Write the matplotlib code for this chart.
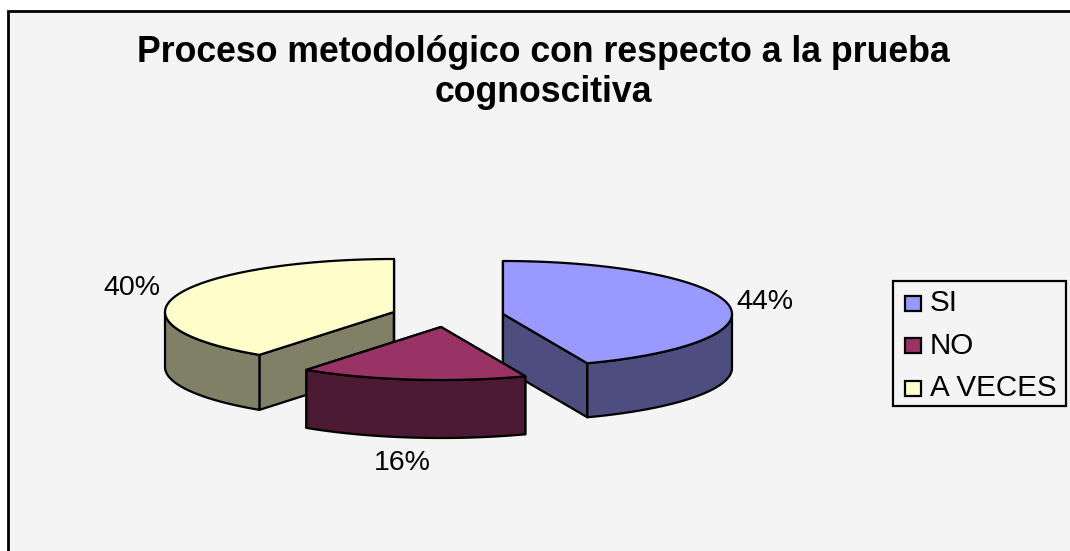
import numpy as np
import matplotlib
matplotlib.use("Agg")
import matplotlib.pyplot as plt
from matplotlib.patches import Polygon, Rectangle

plt.rcParams['font.family'] = ['Liberation Sans', 'DejaVu Sans']

# =========================
# DATA
# =========================
labels = ["SI", "NO", "A VECES"]
values = [44, 16, 40]
pct_labels = ["44%", "16%", "40%"]
title_text = "Proceso metodológico con respecto a la prueba\ncognoscitiva"

# =========================
# STYLE / LAYOUT (pixels)
# =========================
top_colors = ["#9999FF", "#993366", "#FFFFCC"]
side_colors = ["#4D4D80", "#4D1A33", "#808066"]
apex = [(503, 314), (441, 327), (394, 312)]
depth = [54, 58, 55]
label_pos = [(765, 302), (402, 463), (132, 288)]
RX = 229
RY = 53
BG = "#F4F4F4"

fig = plt.figure(figsize=(10.7, 5.51), dpi=100, facecolor="white")
ax = fig.add_axes([0, 0, 1, 1])
ax.set_xlim(0, 1070)
ax.set_ylim(551, 0)
ax.axis("off")

# chart area, only left and top borders are in the crop
ax.add_patch(Rectangle((7.5, 11), 1070, 560, fc=BG, ec="black", lw=2, zorder=1))


def arc(cx, cy, a0, a1):
    # angles clockwise from 12 o'clock, in degrees
    t = np.radians(np.linspace(a0, a1, 80))
    return np.column_stack([cx + RX * np.sin(t), cy - RY * np.cos(t)])


def draw_slice(a0, a1, cx, cy, d, top, side, z):
    ends = arc(cx, cy, a0, a1)
    # cut faces
    for p in (ends[0], ends[-1]):
        face = [(cx, cy), tuple(p), (p[0], p[1] + d), (cx, cy + d)]
        ax.add_patch(Polygon(face, fc=side, ec="black", lw=1.6, joinstyle="round", zorder=z))
    # outer wall, only the part facing the viewer
    f0, f1 = max(a0, 90), min(a1, 270)
    if f1 > f0:
        rim = arc(cx, cy, f0, f1)
        wall = np.vstack([rim, rim[::-1] + [0, d]])
        ax.add_patch(Polygon(wall, fc=side, ec="black", lw=1.6, joinstyle="round", zorder=z))
    # top
    top_pts = np.vstack([[(cx, cy)], ends])
    ax.add_patch(Polygon(top_pts, fc=top, ec="black", lw=1.6, joinstyle="round", zorder=z))


# =========================
# PIE
# =========================
angles = np.cumsum([0] + values) / np.sum(values) * 360
for i in [2, 0, 1]:
    draw_slice(angles[i], angles[i + 1], apex[i][0], apex[i][1], depth[i],
               top_colors[i], side_colors[i], 2 + [2, 0, 1].index(i))

for (x, y), s in zip(label_pos, pct_labels):
    ax.text(x, y, s, ha="center", va="center", fontsize=20.5, color="black", zorder=6)

# =========================
# TITLE
# =========================
ax.text(543, 72.5, title_text, ha="center", va="center", fontsize=25.7, fontweight="bold",
        color="black", linespacing=1.21, zorder=6)

# =========================
# LEGEND
# =========================
ax.add_patch(Rectangle((893, 281), 173, 125, fc=BG, ec="black", lw=1.6, zorder=6))
for i, s in enumerate(labels):
    y = 303 + i * 42.5
    ax.add_patch(Rectangle((904.5, y - 7.5), 16, 15, fc=top_colors[i], ec="black", lw=1.6, zorder=7))
    ax.text(930, y, s, ha="left", va="center", fontsize=21.3, color="black", zorder=7)

fig.savefig("out.png", dpi=100)
